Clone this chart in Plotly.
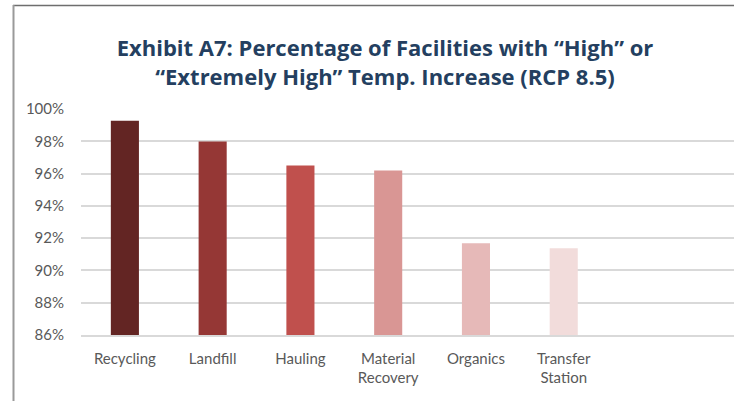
import plotly.graph_objects as go

categories = ["Recycling", "Landfill", "Hauling", "Material<br>Recovery", "Organics", "Transfer<br>Station"]
values = [99.27, 97.98, 96.50, 96.19, 91.68, 91.38]
colors = ["#632523", "#953735", "#C0504D", "#D99694", "#E6B9B8", "#F2DCDB"]
y_ticks = [86, 88, 90, 92, 94, 96, 98, 100]
y_tick_labels = [f"{t}%" for t in y_ticks]

fig = go.Figure(go.Bar(
    x=categories, y=values, marker=dict(color=colors, line=dict(width=0)),
    width=0.32,
))

fig.update_layout(
    width=734, height=401,
    margin=dict(l=81, r=0, t=109, b=66),
    paper_bgcolor="white", plot_bgcolor="white",
    showlegend=False,
    title=dict(
        text="Exhibit A7: Percentage of Facilities with “High” or<br>“Extremely High” Temp. Increase (RCP 8.5)",
        font=dict(family="Open Sans", size=22, color="#243F60", weight="bold"),
        xref="container", x=385/734, xanchor="center",
        yref="container", y=1-56/401, yanchor="middle",
    ),
    font=dict(family="Lato", size=15, color="#595959"),
)
fig.update_xaxes(
    type="category", range=[-0.5, 6.94],
    showline=True, linecolor="#D9D9D9", linewidth=1.5,
    ticks="", tickfont=dict(family="Lato", size=15, color="#595959"),
    ticklabelstandoff=9,
    showgrid=False,
)
fig.update_yaxes(
    range=[86, 100], tickvals=y_ticks, ticktext=y_tick_labels,
    showgrid=True, gridcolor="#D9D9D9", gridwidth=1.5,
    zeroline=False, showline=False, ticks="",
    ticklabelstandoff=16,
    tickfont=dict(family="Lato", size=15, color="#595959"),
)
fig.add_shape(type="line", xref="paper", yref="paper",
              x0=(13-81)/653, x1=1.0, y0=1+(109-5.5)/226, y1=1+(109-5.5)/226,
              line=dict(color="#6E6E6E", width=1.5))
fig.add_shape(type="line", xref="paper", yref="paper",
              x0=(13.5-81)/653, x1=(13.5-81)/653, y0=-66/226, y1=1+(109-5)/226,
              line=dict(color="#9A9A9A", width=2))

fig.write_html("out.html", config={"displayModeBar": False},
               post_script="document.body.style.margin='0';document.body.style.overflow='hidden';")
